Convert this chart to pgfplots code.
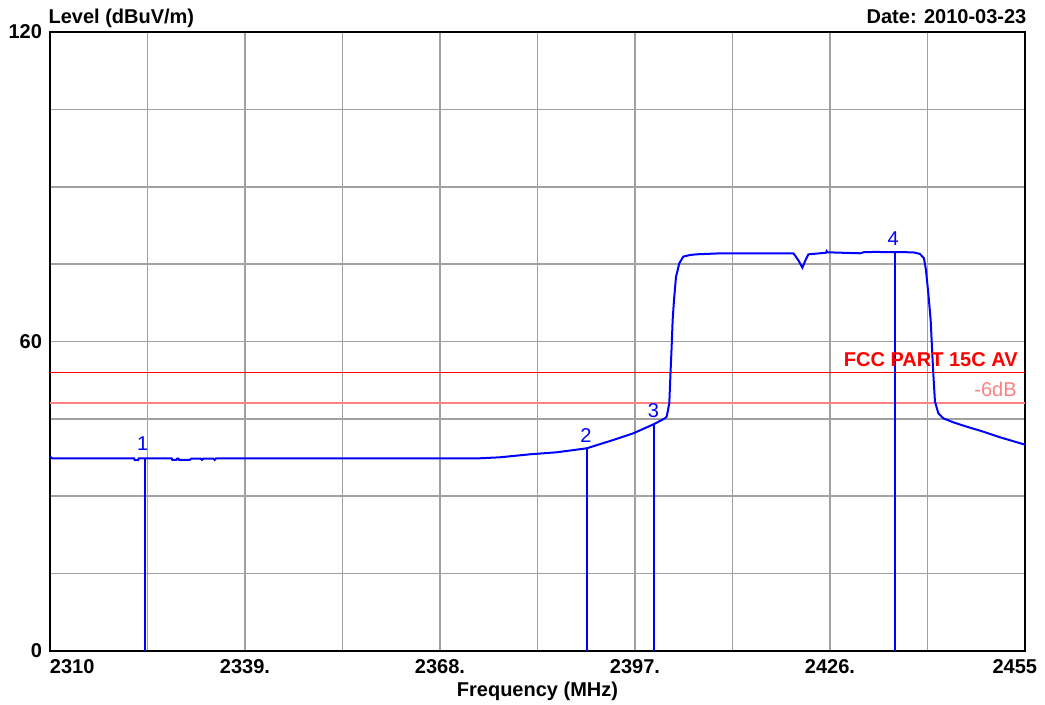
\documentclass[border=0pt]{standalone}
\usepackage{fontspec}
\setmainfont{Liberation Sans}
\usepackage{graphicx}
\usepackage{pgfplots}
\pgfplotsset{compat=1.18}
\definecolor{tracecol}{RGB}{0,0,255}
\definecolor{limitcol}{RGB}{255,0,0}
\definecolor{sixdbcol}{RGB}{255,128,128}
\definecolor{gridcol}{RGB}{160,160,160}
\begin{document}
\begin{tikzpicture}
\begin{axis}[
  at={(0,0)}, anchor=south west,
  scale only axis, width=487.5pt, height=309.5pt,
  xmin=2310, xmax=2455, ymin=0, ymax=120,
  clip=false,
  xtick={2310,2324.5,2339,2353.5,2368,2382.5,2397,2411.5,2426,2440.5,2455},
  xticklabels={\makebox[0pt][l]{2310},,2339.,,2368.,,2397.,,2426.,,\makebox[0pt][r]{2455\kern-6pt}},
  ytick={0,15,30,45,60,75,90,105,120},
  yticklabels={0,,,,60,,,,120},
  grid=major,
  major grid style={draw=gridcol, line width=0.85pt},
  major tick length=0pt,
  axis line style={line width=1pt, black},
  tick label style={font=\bfseries},
  xticklabel style={yshift=-0.5pt},
  yticklabel style={xshift=-0.5pt},
]
% limit lines
\addplot[limitcol, line width=0.9pt] coordinates {(2310,54) (2455,54)};
\addplot[sixdbcol, line width=0.9pt] coordinates {(2310,48) (2455,48)};
% trace
\addplot[tracecol, line width=1pt] coordinates {
(2310.0,37.7) (2310.3,37.36) (2322.5,37.36) (2322.6,37.0) (2323.1,37.0) (2323.2,37.36)
(2328.1,37.36) (2328.2,37.05) (2328.8,37.05) (2328.9,37.3) (2329.1,37.3) (2329.2,37.05)
(2330.8,37.05) (2331.0,37.3) (2332.4,37.3) (2332.6,37.05) (2332.8,37.3)
(2334.3,37.3) (2334.5,37.05) (2334.7,37.36)
(2373.95,37.36) (2376.92,37.55) (2381.38,38.13) (2385.35,38.52) (2389.81,39.29)
(2391.8,40.1) (2393.78,40.91) (2396.75,42.20) (2399.87,44.01) (2401.46,45.11)
(2401.71,45.43) (2402.10,48.02) (2402.30,54.48) (2402.45,59.0) (2402.60,64.17)
(2402.80,68.05) (2403.10,72.57) (2403.59,75.16) (2404.18,76.45) (2405.18,76.77)
(2406.17,76.90) (2409.89,77.10) (2420.55,77.10) (2420.9,76.5) (2421.4,75.5)
(2421.89,74.32) (2422.3,75.6) (2422.78,76.90) (2425.4,77.2) (2425.5,77.5) (2425.6,77.29)
(2430.47,77.10) (2431.0,77.3) (2432.45,77.36) (2438.39,77.29) (2439.38,76.97)
(2439.97,76.13) (2440.27,73.87) (2440.62,69.34) (2440.97,64.17) (2441.16,59.0)
(2441.36,53.83) (2441.61,48.34) (2442.11,46.08) (2442.85,45.11) (2444.34,44.33)
(2446.32,43.49) (2448.80,42.52) (2451.28,41.43) (2455.0,40.0)
};
% markers
\addplot[tracecol, line width=1pt] coordinates {(2324.1,0) (2324.1,37.36)};
\addplot[tracecol, line width=1pt] coordinates {(2389.8,0) (2389.8,39.29)};
\addplot[tracecol, line width=1pt] coordinates {(2399.87,0) (2399.87,44.01)};
\addplot[tracecol, line width=1pt] coordinates {(2435.7,0) (2435.7,77.33)};
\node[anchor=base, text=tracecol, inner sep=0pt] at (axis cs:2323.8,38.8) {1};
\node[anchor=base, text=tracecol, inner sep=0pt] at (axis cs:2389.7,40.5) {2};
\node[anchor=base, text=tracecol, inner sep=0pt] at (axis cs:2399.75,45.3) {3};
\node[anchor=base, text=tracecol, inner sep=0pt] at (axis cs:2435.4,78.7) {4};
% limit labels
\node[anchor=base east, inner sep=0pt, text=limitcol, font=\bfseries] at ([xshift=-3.5pt]axis cs:2455,55.1) {FCC PART 15C AV};
\node[anchor=base east, inner sep=0pt, text=sixdbcol] at ([xshift=-4pt]axis cs:2455,49.3) {-6dB};
% titles
\node[anchor=base west, inner sep=0pt, font=\bfseries] at ([xshift=-0.9pt,yshift=4.3pt]rel axis cs:0,1) {Level (dBuV/m)};
\node[anchor=base east, inner sep=0pt, font=\bfseries] at ([xshift=0.9pt,yshift=4.3pt]rel axis cs:1,1) {Date: 2010-03-23};
\node[anchor=base, inner sep=0pt, font=\bfseries] at ([yshift=-22.8pt]rel axis cs:0.5,0) {Frequency (MHz)};
\end{axis}
\pgfresetboundingbox
\path (-25pt,-27pt) rectangle (497.5pt,325.5pt);
\end{tikzpicture}
\end{document}
